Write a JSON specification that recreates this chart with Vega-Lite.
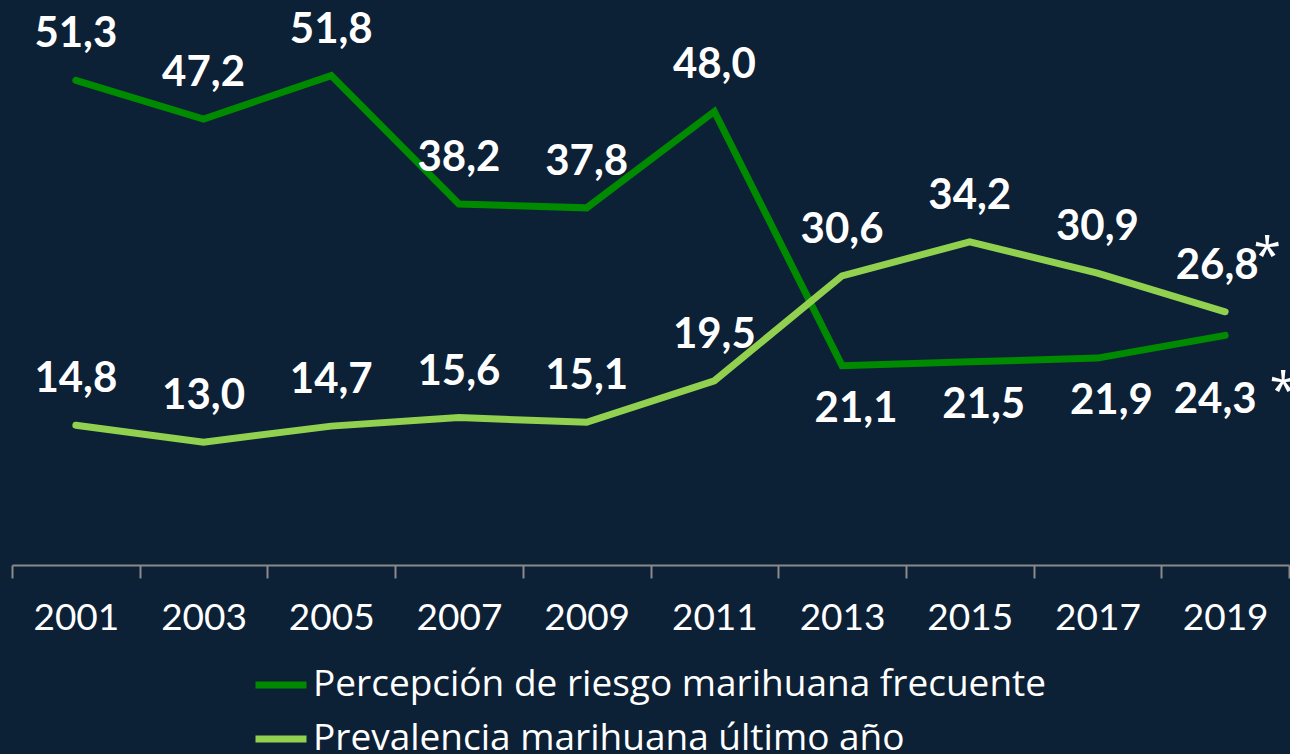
{
  "$schema": "https://vega.github.io/schema/vega-lite/v6.json",
  "width": 1277,
  "height": 565,
  "autosize": {"type": "none"},
  "padding": {"left": 12, "top": 0, "right": 1, "bottom": 189},
  "background": "#0c2036",
  "config": {
    "view": {"stroke": null},
    "locale": {"number": {"decimal": ",", "thousands": ".", "grouping": [3], "currency": ["", " €"]}},
    "font": "Lato"
  },
  "data": {
    "values": [
      {"year": "2001", "serie": "Percepción de riesgo marihuana frecuente", "valor": 51.3, "nota": ""},
      {"year": "2003", "serie": "Percepción de riesgo marihuana frecuente", "valor": 47.2, "nota": ""},
      {"year": "2005", "serie": "Percepción de riesgo marihuana frecuente", "valor": 51.8, "nota": ""},
      {"year": "2007", "serie": "Percepción de riesgo marihuana frecuente", "valor": 38.2, "nota": ""},
      {"year": "2009", "serie": "Percepción de riesgo marihuana frecuente", "valor": 37.8, "nota": ""},
      {"year": "2011", "serie": "Percepción de riesgo marihuana frecuente", "valor": 48.0, "nota": ""},
      {"year": "2013", "serie": "Percepción de riesgo marihuana frecuente", "valor": 21.1, "nota": ""},
      {"year": "2015", "serie": "Percepción de riesgo marihuana frecuente", "valor": 21.5, "nota": ""},
      {"year": "2017", "serie": "Percepción de riesgo marihuana frecuente", "valor": 21.9, "nota": ""},
      {"year": "2019", "serie": "Percepción de riesgo marihuana frecuente", "valor": 24.3, "nota": "*"},
      {"year": "2001", "serie": "Prevalencia marihuana último año", "valor": 14.8, "nota": ""},
      {"year": "2003", "serie": "Prevalencia marihuana último año", "valor": 13.0, "nota": ""},
      {"year": "2005", "serie": "Prevalencia marihuana último año", "valor": 14.7, "nota": ""},
      {"year": "2007", "serie": "Prevalencia marihuana último año", "valor": 15.6, "nota": ""},
      {"year": "2009", "serie": "Prevalencia marihuana último año", "valor": 15.1, "nota": ""},
      {"year": "2011", "serie": "Prevalencia marihuana último año", "valor": 19.5, "nota": ""},
      {"year": "2013", "serie": "Prevalencia marihuana último año", "valor": 30.6, "nota": ""},
      {"year": "2015", "serie": "Prevalencia marihuana último año", "valor": 34.2, "nota": ""},
      {"year": "2017", "serie": "Prevalencia marihuana último año", "valor": 30.9, "nota": ""},
      {"year": "2019", "serie": "Prevalencia marihuana último año", "valor": 26.8, "nota": "*"}
    ]
  },
  "encoding": {
    "x": {
      "field": "year", "type": "ordinal",
      "scale": {"paddingInner": 0, "paddingOuter": 0},
      "axis": {
        "title": null, "labelAngle": 0, "tickBand": "extent",
        "domainColor": "#8a8a8a", "domainWidth": 2, "tickColor": "#8a8a8a", "tickWidth": 2, "tickSize": 13,
        "labelColor": "#ffffff", "labelFontSize": 37, "labelFont": "Lato", "labelPadding": 22
      }
    },
    "y": {"field": "valor", "type": "quantitative", "scale": {"domain": [0, 59.8]}, "axis": null}
  },
  "layer": [
    {
      "mark": {"type": "line", "strokeWidth": 7, "strokeCap": "round"},
      "encoding": {
        "color": {
          "field": "serie", "type": "nominal",
          "scale": {"domain": ["Percepción de riesgo marihuana frecuente", "Prevalencia marihuana último año"], "range": ["#008a00", "#92d050"]},
          "legend": {
            "title": null, "orient": "none", "legendX": 240, "legendY": 658, "direction": "vertical",
            "symbolType": "stroke", "symbolStrokeWidth": 7, "symbolSize": 2600, "symbolStrokeCap": "round",
            "labelColor": "#ffffff", "labelFontSize": 37, "labelFont": "Open Sans", "labelOffset": 3, "labelLimit": 0,
            "rowPadding": 0, "clipHeight": 54
          }
        }
      }
    },
    {
      "transform": [{"filter": "datum.serie === 'Percepción de riesgo marihuana frecuente' && datum.year <= '2011'"}],
      "mark": {"type": "text", "dy": -46, "fontSize": 42, "fontWeight": "bold", "color": "#ffffff", "baseline": "middle"},
      "encoding": {"text": {"field": "valor", "type": "quantitative", "format": ".1f"}}
    },
    {
      "transform": [{"filter": "datum.serie === 'Percepción de riesgo marihuana frecuente' && datum.year >= '2013' && datum.year <= '2017'"}],
      "mark": {"type": "text", "dy": 43, "dx": 14, "fontSize": 42, "fontWeight": "bold", "color": "#ffffff", "baseline": "middle"},
      "encoding": {"text": {"field": "valor", "type": "quantitative", "format": ".1f"}}
    },
    {
      "transform": [{"filter": "datum.serie === 'Percepción de riesgo marihuana frecuente' && datum.year === '2019'"}],
      "mark": {"type": "text", "dy": 65, "dx": -10, "fontSize": 42, "fontWeight": "bold", "color": "#ffffff", "baseline": "middle"},
      "encoding": {"text": {"field": "valor", "type": "quantitative", "format": ".1f"}}
    },
    {
      "transform": [{"filter": "datum.serie === 'Prevalencia marihuana último año' && datum.year !== '2019'"}],
      "mark": {"type": "text", "dy": -46, "fontSize": 42, "fontWeight": "bold", "color": "#ffffff", "baseline": "middle"},
      "encoding": {"text": {"field": "valor", "type": "quantitative", "format": ".1f"}}
    },
    {
      "transform": [{"filter": "datum.serie === 'Prevalencia marihuana último año' && datum.year === '2019'"}],
      "mark": {"type": "text", "dy": -46, "dx": -8, "fontSize": 42, "fontWeight": "bold", "color": "#ffffff", "baseline": "middle"},
      "encoding": {"text": {"field": "valor", "type": "quantitative", "format": ".1f"}}
    },
    {
      "transform": [{"filter": "datum.serie === 'Prevalencia marihuana último año' && datum.nota !== ''"}],
      "mark": {"type": "text", "dy": -54, "dx": 42, "fontSize": 50, "font": "Open Sans", "color": "#ffffff", "baseline": "middle"},
      "encoding": {"text": {"field": "nota"}}
    },
    {
      "transform": [{"filter": "datum.serie === 'Percepción de riesgo marihuana frecuente' && datum.nota !== ''"}],
      "mark": {"type": "text", "dy": 58, "dx": 58, "fontSize": 50, "font": "Open Sans", "color": "#ffffff", "baseline": "middle"},
      "encoding": {"text": {"field": "nota"}}
    }
  ]
}
